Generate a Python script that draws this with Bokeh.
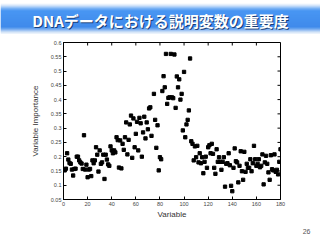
import math
from bokeh.plotting import figure
from bokeh.models import Range1d, FixedTicker, Title
from bokeh.layouts import column
from bokeh.embed import file_html
from bokeh.resources import INLINE
from bokeh.core.properties import value

TITLE = "DNAデータにおける説明変数の重要度"
PAGE_NO = "26"
X_LABEL = "Variable"
Y_LABEL = "Variable Importance"

x_ticks = [0, 20, 40, 60, 80, 100, 120, 140, 160, 180]
x_tick_labels = ["0", "20", "40", "60", "80", "100", "120", "140", "160", "180"]
y_ticks = [0.05, 0.1, 0.15, 0.2, 0.25, 0.3, 0.35, 0.4, 0.45, 0.5, 0.55, 0.6]
y_tick_labels = ["0.05", "0.1", "0.15", "0.2", "0.25", "0.3", "0.35", "0.4",
                 "0.45", "0.5", "0.55", "0.6"]

variable = list(range(1, 74)) + list(range(75, 181))
importance = [
    0.152, 0.158, 0.212, 0.190, 0.178, 0.175, 0.155, 0.134, 0.157, 0.158,
    0.200, 0.200, 0.187, 0.180, 0.176, 0.157, 0.275, 0.155, 0.172, 0.128,
    0.155, 0.157, 0.132, 0.187, 0.177, 0.187, 0.233, 0.207, 0.148, 0.222,
    0.175, 0.180, 0.207, 0.122, 0.207, 0.190, 0.173, 0.168, 0.236, 0.222,
    0.212, 0.222, 0.215, 0.268, 0.258, 0.162, 0.257, 0.159, 0.245, 0.224,
    0.268, 0.320, 0.208, 0.259, 0.313, 0.344, 0.196, 0.334, 0.233, 0.280,
    0.322, 0.222, 0.336, 0.317, 0.200, 0.285, 0.340, 0.264, 0.320, 0.296,
    0.369, 0.373, 0.273,
    0.420, 0.329, 0.231, 0.310, 0.152, 0.198, 0.191, 0.430, 0.482, 0.443,
    0.560, 0.385, 0.406, 0.408, 0.560, 0.408, 0.405, 0.558, 0.371, 0.481,
    0.443, 0.471, 0.400, 0.420, 0.292, 0.497, 0.268, 0.313, 0.329, 0.362,
    0.544, 0.254, 0.245, 0.187, 0.236, 0.198, 0.238, 0.180, 0.212, 0.177,
    0.198, 0.142, 0.182, 0.200, 0.161, 0.233, 0.240, 0.212, 0.245, 0.210,
    0.161, 0.140, 0.226, 0.182, 0.198, 0.182, 0.154, 0.182, 0.198, 0.095,
    0.175, 0.177, 0.212, 0.170, 0.098, 0.079, 0.161, 0.229, 0.184, 0.180,
    0.110, 0.168, 0.219, 0.149, 0.119, 0.217, 0.147, 0.175, 0.161, 0.161,
    0.191, 0.149, 0.177, 0.238, 0.191, 0.168, 0.175, 0.191, 0.163, 0.168,
    0.208, 0.103, 0.180, 0.203, 0.175, 0.145, 0.119, 0.205, 0.156, 0.152,
    0.208, 0.147, 0.154, 0.138, 0.182, 0.226,
]

font = "Liberation Sans"

# ---------- title band (gradient made of 1px strips) ----------
def hex2rgb(h):
    h = h.lstrip("#")
    return tuple(int(h[i:i + 2], 16) for i in (0, 2, 4))

def lerp(c1, c2, t):
    a, b = hex2rgb(c1), hex2rgb(c2)
    return "#%02x%02x%02x" % tuple(round(a[i] + (b[i] - a[i]) * t) for i in range(3))

anchors = [(3, "#f2f7fd"), (5, "#b9d6f8"), (8, "#3f8ff0"), (10, "#0c74ef"),
           (26, "#0064e4"), (28, "#3a87ea"), (31, "#b9d3f3"), (33, "#f4f8fd")]
strip_top, strip_bot, strip_col = [], [], []
for yy in range(3, 33):
    for (a0, c0), (a1, c1) in zip(anchors[:-1], anchors[1:]):
        if a0 <= yy < a1:
            strip_col.append(lerp(c0, c1, (yy - a0) / (a1 - a0)))
            break
    strip_top.append(yy)
    strip_bot.append(yy + 1)

band = figure(width=320, height=40, x_range=Range1d(0, 320), y_range=Range1d(40, 0),
              output_backend="svg", toolbar_location=None, min_border=0,
              min_border_left=0, min_border_right=0, min_border_top=0, min_border_bottom=0,
              x_axis_location=None, y_axis_location=None)
band.grid.visible = False
band.outline_line_color = None
band.quad(left=0, right=320, top=strip_top, bottom=strip_bot, fill_color=strip_col,
          line_color=None)
band.text(x=[161], y=[21], text=[TITLE], text_font=value("Noto Sans CJK JP"),
          text_font_style="bold", text_font_size="15px", text_color="#0a2350",
          text_alpha=0.75, text_align="center", text_baseline="middle")
band.text(x=[160], y=[20], text=[TITLE], text_font=value("Noto Sans CJK JP"),
          text_font_style="bold", text_font_size="15px", text_color="white",
          text_align="center", text_baseline="middle")

# ---------- main scatter ----------
p = figure(width=320, height=200, x_range=Range1d(0, 180), y_range=Range1d(0.05, 0.6),
           output_backend="svg", toolbar_location=None,
           min_border_left=63, min_border_right=40, min_border_top=2, min_border_bottom=41)
p.grid.visible = False
p.outline_line_color = "black"
p.outline_line_width = 1

p.scatter(variable, importance, marker="square", size=3.3, color="black")

# inward ticks on top and right border
p.ray(x=x_ticks, y=y_ticks[-1], length=3, length_units="screen", angle=-math.pi / 2,
      line_color="black", line_width=1)
p.ray(x=x_ticks[-1], y=y_ticks, length=3, length_units="screen", angle=math.pi,
      line_color="black", line_width=1)

for ax in (p.xaxis[0], p.yaxis[0]):
    ax.major_tick_in = 3
    ax.major_tick_out = 0
    ax.minor_tick_line_color = None
    ax.axis_line_color = "black"
    ax.major_tick_line_color = "black"
    ax.major_label_text_font = font
    ax.major_label_text_font_size = "5.5px"
    ax.major_label_text_color = "#444444"
    ax.axis_label_text_font = font
    ax.axis_label_text_font_size = "8px"
    ax.axis_label_text_font_style = "normal"
    ax.axis_label_text_color = "#333333"
    ax.major_label_standoff = 2

p.xaxis[0].ticker = FixedTicker(ticks=x_ticks)
p.xaxis[0].major_label_overrides = dict(zip(x_ticks, x_tick_labels))
p.xaxis[0].axis_label = X_LABEL
p.xaxis[0].axis_label_standoff = 1
p.yaxis[0].ticker = FixedTicker(ticks=y_ticks)
p.yaxis[0].major_label_overrides = dict(zip(y_ticks, y_tick_labels))
p.yaxis[0].axis_label = Y_LABEL
p.yaxis[0].axis_label_standoff = 8

p.add_layout(Title(text=PAGE_NO, align="right", offset=-30, text_font=font,
                   text_font_size="7px", text_font_style="normal",
                   text_color="#555555"), "below")

layout = column(column(band), p, spacing=0)
open("out.html", "w").write(file_html(layout, INLINE))
